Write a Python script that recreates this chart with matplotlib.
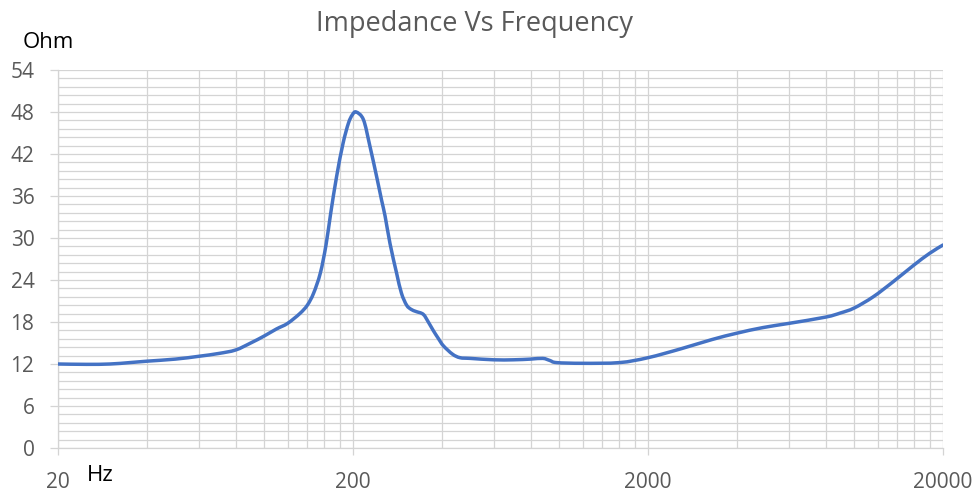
import matplotlib
matplotlib.use("Agg")
import numpy as np
import matplotlib.pyplot as plt
from matplotlib.path import Path
from matplotlib.patches import PathPatch
from matplotlib.ticker import FixedLocator, NullFormatter

plt.rcParams['font.family'] = ['Open Sans', 'DejaVu Sans']

freq = [20, 25, 30, 35, 40, 50, 60, 70, 80, 90, 100, 110, 120, 132, 140, 147,
        155, 162, 168, 176, 185, 193, 199, 205, 217, 228, 241, 250, 257,
        267, 281, 292, 304, 315, 327, 346, 360, 374, 390, 405, 435, 461, 500,
        600, 700, 800, 880, 930, 980, 1200, 1600, 2000, 2600, 3300, 4000, 4900,
        6000, 8000, 9000, 10000, 11600, 13600, 15900, 18000, 20000]
impedance = [12.0, 11.95, 12.0, 12.2, 12.4, 12.7, 13.1, 13.5, 14.0, 15.0, 16.0,
             17.0, 17.8, 19.2, 20.4, 22.1, 25.0, 29.0, 33.5, 38.8, 43.5, 46.4,
             47.6, 48.0, 46.9, 43.2, 38.6, 35.4, 33.1, 29.2, 25.0, 22.1,
             20.4, 19.8, 19.5, 19.1, 18.0, 16.8, 15.6, 14.6, 13.4, 12.9, 12.8,
             12.6, 12.6, 12.7, 12.8, 12.5, 12.2, 12.1, 12.2, 12.9, 14.2, 15.5,
             16.4, 17.2, 17.8, 18.7, 19.3, 20.0, 21.6, 23.8, 26.1, 27.8, 29.0]

x_major = [20, 200, 2000, 20000]
x_major_labels = ["20", "200", "2000", "20000"]
x_minor = ([20 * k for k in range(2, 10)] + [200 * k for k in range(2, 10)]
           + [2000 * k for k in range(2, 10)])
y_major = [0, 6, 12, 18, 24, 30, 36, 42, 48, 54]
y_minor_step = 1.2

grid_c = "#d4d4d4"
text_c = "#595959"
line_c = "#4472C4"

fig = plt.figure(figsize=(9.76, 4.94), dpi=100)
ax = fig.add_axes([58 / 976, 46 / 494, 885 / 976, 378 / 494])
ax.set_xscale("log")
ax.set_xlim(20, 20000)
ax.set_ylim(0, 54)


def smooth_path(xs, ys, scale_y):
    # Catmull-Rom style smoothing (like a spreadsheet "smoothed line"),
    # computed in log10(x) space so the curve is smooth on the log axis.
    lx = np.log10(np.asarray(xs, float))
    y = np.asarray(ys, float)
    sx = 1.0 / (lx[-1] - lx[0])
    sy = 1.0 / scale_y
    px, py = lx * sx, y * sy
    n = len(px)
    verts = [(px[0], py[0])]
    codes = [Path.MOVETO]
    t = 1.0 / 6.0
    for i in range(n - 1):
        p0 = (px[max(i - 1, 0)], py[max(i - 1, 0)])
        p1 = (px[i], py[i])
        p2 = (px[i + 1], py[i + 1])
        p3 = (px[min(i + 2, n - 1)], py[min(i + 2, n - 1)])
        c1 = (p1[0] + (p2[0] - p0[0]) * t, p1[1] + (p2[1] - p0[1]) * t)
        c2 = (p2[0] - (p3[0] - p1[0]) * t, p2[1] - (p3[1] - p1[1]) * t)
        verts += [c1, c2, p2]
        codes += [Path.CURVE4] * 3
    verts = [(10 ** (vx / sx), vy / sy) for vx, vy in verts]
    return Path(verts, codes)


patch = PathPatch(smooth_path(freq, impedance, 54.0 * 885 / 378),
                  facecolor="none", edgecolor=line_c, lw=2.5,
                  capstyle="round", joinstyle="round", zorder=3)
ax.add_patch(patch)

ax.xaxis.set_major_locator(FixedLocator(x_major))
ax.set_xticklabels(x_major_labels)
ax.xaxis.set_minor_locator(FixedLocator(x_minor))
ax.xaxis.set_minor_formatter(NullFormatter())
ax.yaxis.set_major_locator(FixedLocator(y_major))
ax.yaxis.set_minor_locator(FixedLocator([round(i * y_minor_step, 2) for i in range(46)]))

ax.grid(True, which="both", color=grid_c, lw=0.9)
ax.set_axisbelow(True)
for s in ["top", "right"]:
    ax.spines[s].set_visible(False)
for s in ["left", "bottom"]:
    ax.spines[s].set_color(grid_c)
    ax.spines[s].set_linewidth(0.9)

ax.tick_params(axis="both", which="major", width=0.9, color=grid_c,
               labelcolor=text_c, labelsize=15)
ax.tick_params(axis="x", which="major", length=5, pad=12)
ax.tick_params(axis="y", which="major", length=6, pad=11)
ax.tick_params(which="minor", length=0)

fig.text(474 / 976, 1 - 24 / 494, "Impedance Vs Frequency", ha="center",
         va="center", fontsize=19.5, color=text_c)
fig.text(23 / 976, 1 - 43 / 494, "Ohm", ha="left", va="center", fontsize=16,
         color="black")
fig.text(87 / 976, 1 - 475 / 494, "Hz", ha="left", va="center", fontsize=16,
         color="black")

fig.savefig("out.png", dpi=100)
